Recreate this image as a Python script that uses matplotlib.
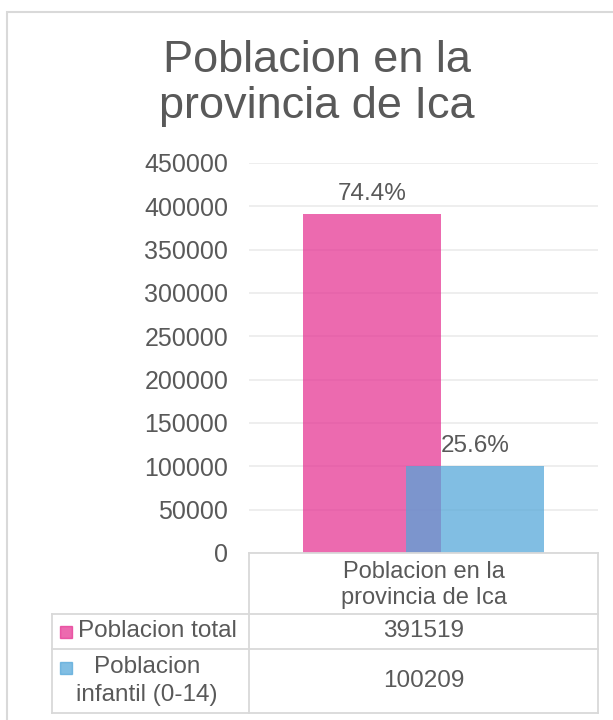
import matplotlib
matplotlib.use("Agg")
import matplotlib.pyplot as plt
from matplotlib.lines import Line2D
from matplotlib.patches import Rectangle

# data
category = "Poblacion en la\nprovincia de Ica"
series_names = ["Poblacion total", "Poblacion\ninfantil (0-14)"]
values = [391519, 100209]
percent_labels = ["74.4%", "25.6%"]
colors = ["#e53091", "#51a6d9"]
yticks = [0, 50000, 100000, 150000, 200000, 250000, 300000, 350000, 400000, 450000]

W, H = 613, 720
TXT = "#595959"
GRID = "#ededed"
BORDER = "#d9d9d9"
FS = 17.5

plt.rcParams["font.family"] = ["Liberation Sans", "DejaVu Sans"]

fig = plt.figure(figsize=(W / 100, H / 100), dpi=100)


def fx(px):
    return px / W


def fy(py):
    return 1 - py / H


# outer chart border
fig.patches.append(Rectangle((fx(7), fy(740)), fx(640) - fx(7), fy(12) - fy(740),
                             transform=fig.transFigure, fill=False,
                             edgecolor=BORDER, linewidth=1.5))

# title
fig.text(fx(317), fy(72), "Poblacion en la", ha="center", va="baseline",
         fontsize=32.5, color=TXT)
fig.text(fx(317), fy(118), "provincia de Ica", ha="center", va="baseline",
         fontsize=32.5, color=TXT)

# plot area
ax = fig.add_axes([fx(249), fy(553), fx(598) - fx(249), fy(163) - fy(553)])
ax.set_xlim(-0.5, 0.5)
ax.set_ylim(0, 450000)
ax.set_yticks(yticks)
ax.set_yticklabels([str(t) for t in yticks])
ax.tick_params(axis="y", length=0, pad=15, labelsize=18, labelcolor=TXT)
ax.set_xticks([])
ax.grid(axis="y", color=GRID, linewidth=1.3)
ax.set_axisbelow(True)
for s in ax.spines.values():
    s.set_visible(False)

width = 0.395
offsets = [-0.1476, 0.1476]
for i, v in enumerate(values):
    ax.bar(offsets[i], v, width=width, color=colors[i], alpha=0.72, zorder=2)
    ax.text(offsets[i], v + 10000, percent_labels[i], ha="center", va="bottom",
            fontsize=FS, color=TXT)

# data table
lw = 1.3
tl = fig.transFigure
hlines = [(249, 598, 553), (52, 598, 614), (52, 598, 649), (52, 598, 713)]
vlines = [(249, 553, 713), (598, 553, 713), (52, 614, 713)]
for x0, x1, y in hlines:
    fig.lines.append(Line2D([fx(x0), fx(x1)], [fy(y), fy(y)], transform=tl,
                            color=BORDER, linewidth=lw))
for x, y0, y1 in vlines:
    fig.lines.append(Line2D([fx(x), fx(x)], [fy(y0), fy(y1)], transform=tl,
                            color=BORDER, linewidth=lw))

fig.text(fx(424), fy(585), category, ha="center", va="center", fontsize=17,
         color=TXT, linespacing=1.25)

row_y = [631, 681]
for i, name in enumerate(series_names):
    sq_y = 632 if i == 0 else 668
    fig.patches.append(Rectangle((fx(60), fy(sq_y + 6)), fx(12), 12 / H,
                                 transform=tl, color=colors[i], alpha=0.72))
    if i == 0:
        fig.text(fx(78), fy(row_y[i]), name, ha="left", va="center",
                 fontsize=FS, color=TXT)
    else:
        fig.text(fx(147), fy(row_y[i]), name, ha="center", va="center",
                 fontsize=FS, color=TXT, linespacing=1.35)
    fig.text(fx(424), fy(row_y[i]), str(values[i]), ha="center", va="center",
             fontsize=FS, color=TXT)

fig.savefig("out.png", dpi=100)
